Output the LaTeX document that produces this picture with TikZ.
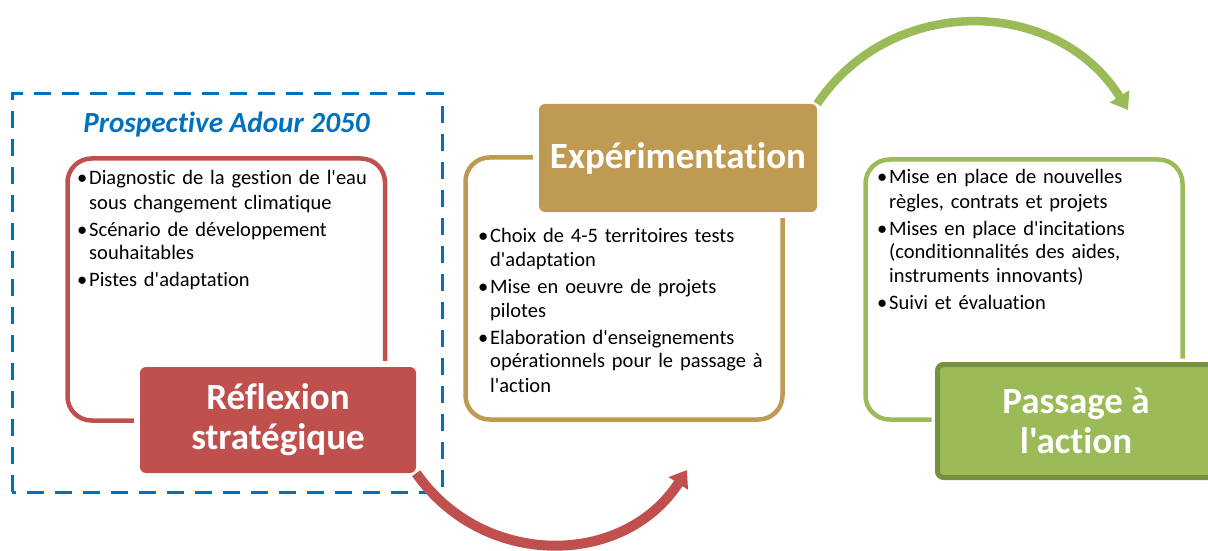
\documentclass[tikz,border=0pt]{standalone}
\usepackage{fontspec}
\setmainfont{Carlito}[Ligatures={TeXOff,CommonOff}]
\usetikzlibrary{calc,positioning,arrows.meta,shapes}

\definecolor{reflred}{RGB}{192,80,77}
\definecolor{expetan}{RGB}{190,154,83}
\definecolor{actgreen}{RGB}{155,187,89}
\definecolor{actdark}{RGB}{118,146,60}
\definecolor{adourblue}{RGB}{0,112,192}

\newcommand{\bitem}[1]{\hangindent=12pt\hangafter=1\noindent\makebox[12pt][l]{\textbullet}#1\par\vspace{3pt}}

\tikzset{
  stageframe/.style={line width=4.5pt,rounded corners=24pt},
  stagelabel/.style={rounded corners=6pt,inner sep=0pt,align=center,text=white,
    font=\fontsize{37}{40}\selectfont\bfseries,
    preaction={draw=white,line width=12pt}},
  stageitems/.style={anchor=base west,inner sep=0pt,text width=330pt,
    font=\fontsize{20.5}{24}\selectfont},
  stagearrow/.style={line width=#1,-{Triangle[width=22pt,length=16pt]}},
}

\begin{document}
\begin{tikzpicture}[x=1pt,y=1pt]
\useasboundingbox (0,0) rectangle (1208,550);

%prospective frame
\draw[adourblue,line width=3pt,dash pattern=on 17pt off 11pt] (12,58) rectangle (442,456);
\node[anchor=base,text=adourblue,font=\fontsize{29.2}{32}\selectfont\bfseries\itshape] (prosp) at (226.5,417) {Prospective Adour 2050};

%reflexion
\draw[stageframe,reflred] (67.5,129.5) rectangle (385,391.5);
\node[stagelabel,fill=reflred,minimum width=276pt,minimum height=106pt] (refl) at (278,130) {Réflexion\\stratégique};
\node[stageitems] (refltxt) at (77,365) {%
\bitem{Diagnostic de la gestion de l'eau\newline sous changement climatique}
\bitem{Scénario de développement\newline souhaitables}
\bitem{Pistes d'adaptation}};

%experimentation
\draw[stageframe,expetan] (465.5,130.5) rectangle (782.5,392.5);
\node[stagelabel,fill=expetan,minimum width=278pt,minimum height=108pt] (expe) at (678,392) {Expérimentation};
\node[stageitems] (expetxt) at (478,308) {%
\bitem{Choix de 4-5 territoires tests\newline d'adaptation}
\bitem{Mise en oeuvre de projets\newline pilotes}
\bitem{Elaboration d'enseignements\newline opérationnels pour le passage à\newline l'action}};

%passage a l'action
\draw[stageframe,actgreen] (865.5,130.5) rectangle (1182.5,390.5);
\node[stagelabel,fill=actgreen,draw=actdark,line width=5pt,minimum width=277pt,minimum height=113pt] (act) at (1076,129) {Passage à\\l'action};
\node[stageitems] (acttxt) at (877,366) {%
\bitem{Mise en place de nouvelles\newline règles, contrats et projets}
\bitem{Mises en place d'incitations\newline (conditionnalités des aides,\newline instruments innovants)}
\bitem{Suivi et évaluation}};

%cycle arrows
\coordinate (redtip) at (687,80);
\coordinate (greentip) at (1128,440);
\draw[stagearrow=10pt,reflred] (refl.south east) to[out=-55,in=-123,looseness=1.1] (redtip);
\draw[stagearrow=8.5pt,actgreen] (expe.north east) to[out=56,in=122,looseness=1.1] (greentip);

\end{tikzpicture}
\end{document}
